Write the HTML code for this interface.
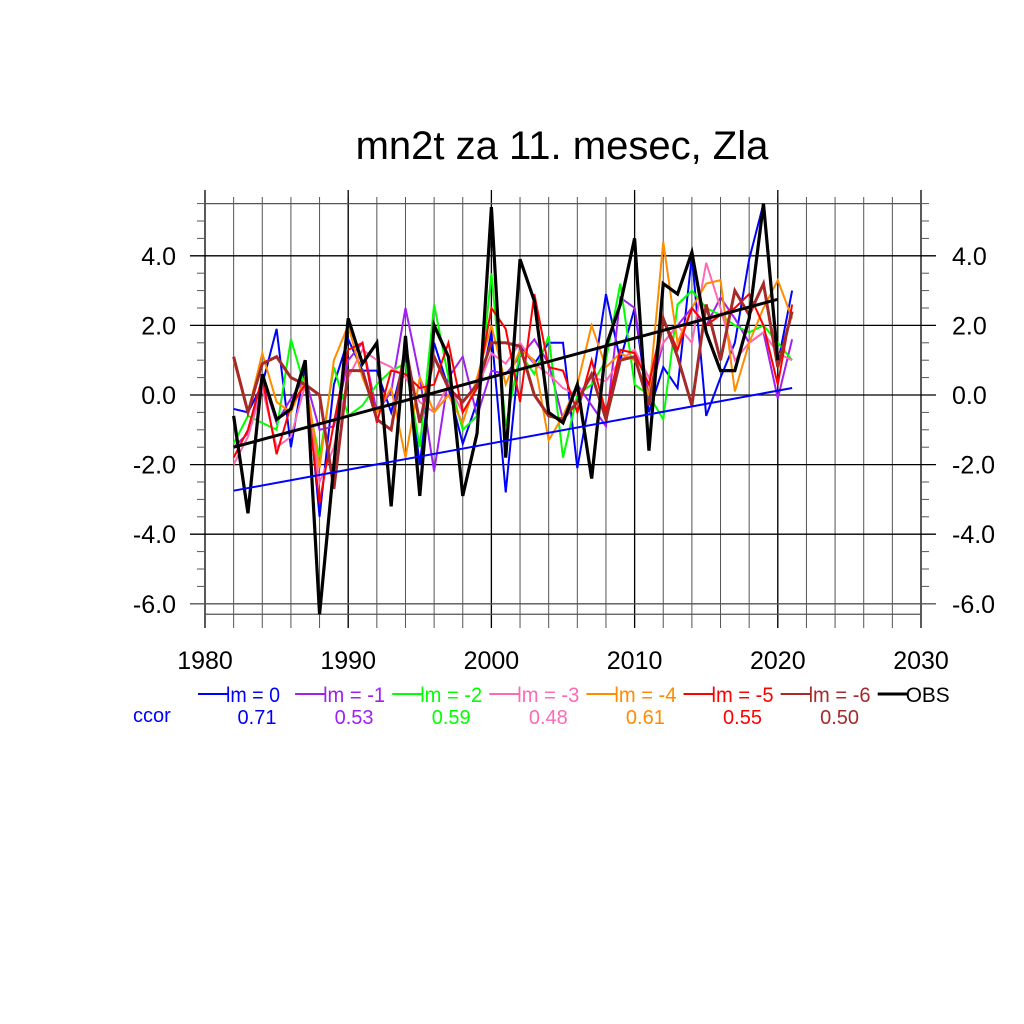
<!DOCTYPE html>
<html><head><meta charset="utf-8"><style>
html,body{margin:0;padding:0;background:#fff;}
svg{display:block;font-family:"Liberation Sans",sans-serif;}
</style></head><body>
<svg id="chart" width="1024" height="1024" viewBox="0 0 1024 1024">
<text x="562" y="159" font-size="40" text-anchor="middle">mn2t za 11. mesec, Zla</text>
<g id="grid"></g><g id="series"></g><g id="axes"></g><g id="legend"></g>
</svg>
<script>
const years = [1982,1983,1984,1985,1986,1987,1988,1989,1990,1991,1992,1993,1994,1995,1996,1997,1998,1999,2000,2001,2002,2003,2004,2005,2006,2007,2008,2009,2010,2011,2012,2013,2014,2015,2016,2017,2018,2019,2020,2021];
const obs = [-0.6,-3.4,0.6,-0.7,-0.4,1.0,-6.3,-2.0,2.2,0.9,1.5,-3.2,1.7,-2.9,2.0,1.1,-2.9,-1.1,5.4,-1.8,3.9,2.7,-0.5,-0.8,0.3,-2.4,1.4,2.6,4.5,-1.6,3.2,2.9,4.1,1.8,0.7,0.7,2.2,5.5,1.0];
const lm0 = [-0.4,-0.5,0.3,1.9,-1.5,0.9,-3.5,0.3,1.6,0.7,0.7,-0.5,1.2,-2.0,1.5,0.2,-1.4,-0.2,1.8,-2.8,1.4,0.9,1.5,1.5,-2.1,0.2,2.9,1.0,2.5,-0.5,0.8,0.2,4.0,-0.6,0.5,1.5,3.9,5.5,0.9,3.0];
const lm1 = [-1.5,-1.1,0.5,-0.8,-0.1,0.5,-1.0,-0.9,1.0,1.5,-0.5,0.1,2.5,0.5,-2.2,0.5,1.1,-0.6,0.7,0.6,1.1,1.6,0.9,-0.7,0.3,-0.3,-0.9,2.8,2.5,-0.1,1.5,2.0,2.5,2.0,2.8,2.2,1.5,1.8,-0.1,1.6];
const lm2 = [-1.4,-0.6,-0.8,-1.0,1.6,0.2,-1.8,0.8,-0.6,-0.3,0.3,0.7,0.9,-1.5,2.6,0.5,-1.0,-0.6,3.5,-0.9,1.2,0.6,1.7,-1.8,0.0,0.3,1.0,3.2,0.3,0.0,-0.7,2.6,3.0,2.5,2.3,2.0,1.8,2.0,1.5,1.0];
const lm3 = [-2.0,-1.2,0.2,-1.5,-1.2,0.3,-2.5,-1.5,0.5,1.3,1.0,0.8,0.5,-0.2,-0.5,0.3,-0.5,0.2,1.2,0.9,1.5,0.9,0.6,0.2,0.0,0.5,0.4,1.0,1.3,0.5,1.5,2.0,1.5,3.8,2.5,1.0,1.5,1.8,1.2,1.0];
const lm4 = [1.0,-0.5,1.2,-0.2,-0.5,0.5,-2.1,1.0,2.0,0.5,-0.5,0.2,-1.8,0.5,-0.5,0.0,-0.8,0.5,2.0,0.3,1.3,1.0,-1.3,-0.6,0.3,2.0,0.8,1.2,1.0,0.0,4.4,1.5,2.5,3.2,3.3,0.1,1.5,2.5,3.3,2.2];
const lm5 = [-1.8,-1.0,0.5,-1.7,-0.3,0.3,-3.1,-0.8,1.3,1.5,-0.8,0.7,0.6,0.2,0.3,1.5,-0.5,0.2,2.5,1.9,-0.2,2.9,0.8,0.7,-0.5,1.0,-0.5,1.3,1.2,0.3,2.2,1.3,2.5,2.0,2.3,2.5,2.9,2.0,0.3,2.6];
const lm6 = [1.1,-0.5,0.9,1.1,0.5,0.3,0.0,-2.7,0.7,0.7,-0.7,-1.0,1.4,-0.8,1.1,0.2,-0.2,0.3,1.5,1.5,1.4,0.0,-0.6,-0.7,-0.2,0.6,-0.7,1.0,1.1,-0.3,2.2,1.1,-0.3,2.6,1.0,3.0,2.3,3.2,0.8,2.4];
const trendLm0 = [-2.75,0.2];
const trendObs = [-1.5,2.75];
const ccorValues = ["0.71","0.53","0.59","0.48","0.61","0.55","0.50"];
const legendLabels = ["lm = 0","lm = -1","lm = -2","lm = -3","lm = -4","lm = -5","lm = -6","OBS"];
const xTicks = [1980,1990,2000,2010,2020,2030];
const yTicks = [-6,-4,-2,0,2,4];
const yTickLabels = ["-6.0","-4.0","-2.0","0.0","2.0","4.0"];

const NS="http://www.w3.org/2000/svg";
const X = y => 205 + (y-1980)*14.32;
const Y = v => 395 - v*34.8;
function mk(tag, attrs, parent){const e=document.createElementNS(NS,tag);for(const k in attrs)e.setAttribute(k,attrs[k]);parent.appendChild(e);return e;}
const grid=document.getElementById('grid'), ser=document.getElementById('series'), axes=document.getElementById('axes'), leg=document.getElementById('legend');
for(let yr=1982; yr<2030; yr+=2){
  const l=mk('line',{x1:X(yr),x2:X(yr),y1:197,y2:628,stroke:'#555','stroke-width':1},grid);
  
  
}
for(const t of xTicks){
  const l=mk('line',{x1:X(t),x2:X(t),y1:190,y2:628,stroke:'#000','stroke-width':1.3},grid);
  
  
  const tx=mk('text',{x:X(t),y:669,'font-size':25,'text-anchor':'middle'},axes);
  tx.textContent=t;
  
  
}
for(const v of [5.5,-6.3]){
  const l=mk('line',{x1:205,x2:921,y1:Y(v),y2:Y(v),stroke:'#555','stroke-width':1.3},grid);
  
  
}
yTicks.forEach((v,i)=>{
  const l=mk('line',{x1:190,x2:936,y1:Y(v),y2:Y(v),stroke:v==-6?'#555':'#000','stroke-width':1.3},grid);
  
  
  const a=mk('text',{x:176,y:Y(v)+9,'font-size':25,'text-anchor':'end'},axes);
  a.textContent=yTickLabels[i];
  
  
  const b=mk('text',{x:952,y:Y(v)+9,'font-size':25},axes);
  b.textContent=yTickLabels[i];
  
  
});
for(let v=-6; v<=5.5; v+=0.5){
  if(Number.isInteger(v/2)) continue;
  const a=mk('line',{x1:197,x2:205,y1:Y(v),y2:Y(v),stroke:'#555','stroke-width':1},axes);
  
  
  const b=mk('line',{x1:921,x2:929,y1:Y(v),y2:Y(v),stroke:'#555','stroke-width':1},axes);
  
  
}
const series=[[lm0,'#0000ff','lm0'],[lm1,'#a020f0','lm-1'],[lm2,'#00ff00','lm-2'],[lm3,'#ff69b4','lm-3'],[lm4,'#ff8c00','lm-4'],[lm5,'#ff0000','lm-5'],[lm6,'#a52a2a','lm-6'],[obs,'#000000','obs']];
series.forEach(([vals,col,nm],k)=>{
  const pts=vals.map((v,i)=>X(years[i])+','+Y(v)).join(' ');
  const p=mk('polyline',{points:pts,fill:'none',stroke:col,'stroke-width':k==7?3.2:(k==6?3:2),'stroke-linejoin':'miter'},ser);
  
  
});
[[trendLm0,lm0,'#0000ff',2,'trend-lm0'],[trendObs,obs,'#000',3,'trend-obs']].forEach(([tr,vals,col,w,nm])=>{
  const y0=years[0],y1=years[vals.length-1];
  const l=mk('line',{x1:X(y0),x2:X(y1),y1:Y(tr[0]),y2:Y(tr[1]),stroke:col,'stroke-width':w},ser);
  
  
});
legendLabels.forEach((lab,i)=>{
  const x0=198+i*97.1, col=series[i][1];
  const l=mk('line',{x1:x0,x2:x0+30,y1:694,y2:694,stroke:col,'stroke-width':i==7?3:2},leg);
  
  
  const t=mk('text',{x:x0+28,y:702,'font-size':21,fill:i==7?'#000':col,textLength:i==7?44:(i==0?54:62),lengthAdjust:'spacingAndGlyphs'},leg);
  t.textContent=lab;
  
  
  if(i<7){
    const v=mk('text',{x:x0+59,y:724,'font-size':20,fill:col,'text-anchor':'middle'},leg);
    v.textContent=ccorValues[i];
    
    
  }
});
const c=mk('text',{x:133,y:722,'font-size':20,fill:'#0000ff'},leg);
c.textContent='ccor';


</script>
</body></html>
